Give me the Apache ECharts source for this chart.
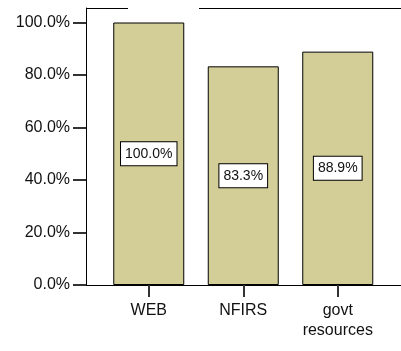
<!DOCTYPE html>
<html>
<head>
<meta charset="utf-8">
<script src="https://cdn.jsdelivr.net/npm/echarts@6/dist/echarts.min.js"></script>
<style>
  html, body { margin: 0; padding: 0; background: #fff; }
  #chart { width: 401px; height: 351px; }
</style>
</head>
<body>
<div id="chart"></div>
<script>
// categories and percentages
var categories = ['WEB', 'NFIRS', 'govt\nresources'];
var percents = [100.0, 83.3, 88.9];
var yTicks = [0, 20, 40, 60, 80, 100];

var FONT = 'Liberation Sans, Arial, sans-serif';
var chart = echarts.init(document.getElementById('chart'));

chart.setOption({
    animation: false,
    backgroundColor: '#fff',
    grid: [
        // outer frame (left line, bottom line)
        { left: 86, right: 0, top: 8, bottom: 66 },
        // bars
        { left: 101.5, right: 16, top: 22.5, bottom: 66 }
    ],
    xAxis: [
        {
            gridIndex: 0, type: 'value', min: 0, max: 1,
            axisLine: { show: true, lineStyle: { color: '#000', width: 1 } },
            axisTick: { show: false }, axisLabel: { show: false }, splitLine: { show: false }
        },
        {
            gridIndex: 1, type: 'category', data: categories,
            axisLine: { show: false },
            axisTick: { show: true, alignWithLabel: true, length: 12, lineStyle: { color: '#333', width: 2 } },
            axisLabel: { margin: 16, fontSize: 16, fontFamily: FONT, color: '#111', lineHeight: 19.5 },
            splitLine: { show: false }
        }
    ],
    yAxis: [
        {
            gridIndex: 0, type: 'value', min: 0, max: 1,
            axisLine: { show: true, lineStyle: { color: '#000', width: 1 } },
            axisTick: { show: false }, axisLabel: { show: false }, splitLine: { show: false }
        },
        {
            gridIndex: 1, type: 'value', min: yTicks[0], max: yTicks[yTicks.length - 1], interval: 20,
            offset: 15.5,
            axisLine: { show: false },
            axisTick: { show: true, length: 13, lineStyle: { color: '#333', width: 2 } },
            axisLabel: {
                margin: 16, fontSize: 16, fontFamily: FONT, color: '#111',
                formatter: function (v) { return v.toFixed(1) + '%'; }
            },
            splitLine: { show: false }
        }
    ],
    // top frame line, broken above the first bar
    graphic: [
        { type: 'line', shape: { x1: 86, y1: 8.5, x2: 128, y2: 8.5 }, style: { stroke: '#000', lineWidth: 1 } },
        { type: 'line', shape: { x1: 199, y1: 8.5, x2: 401, y2: 8.5 }, style: { stroke: '#000', lineWidth: 1 } }
    ],
    series: [
        {
            type: 'bar',
            xAxisIndex: 1,
            yAxisIndex: 1,
            data: percents,
            barWidth: 71,
            itemStyle: { color: '#d3ce97', borderColor: '#000', borderWidth: 1 },
            label: {
                show: true,
                position: 'inside',
                formatter: function (p) { return p.value.toFixed(1) + '%'; },
                fontSize: 14,
                fontFamily: FONT,
                color: '#111',
                backgroundColor: '#fff',
                borderColor: '#000',
                borderWidth: 1,
                padding: [5, 4, 4, 4]
            }
        }
    ]
});
</script>
</body>
</html>
